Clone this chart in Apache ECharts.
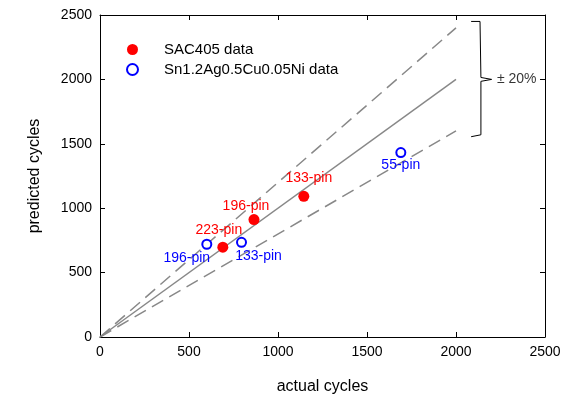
<!DOCTYPE html>
<html><head><meta charset="utf-8">
<script src="https://cdn.jsdelivr.net/npm/echarts@6/dist/echarts.min.js"></script>
<style>html,body{margin:0;padding:0;background:#fff}#c{width:574px;height:400px}</style>
</head><body><div id="c"></div>
<script>
const xTicks = [0, 500, 1000, 1500, 2000, 2500];
const yTicks = [0, 500, 1000, 1500, 2000, 2500];
const sacNames = ['223-pin', '196-pin', '133-pin'];
const sacActual = [690, 865, 1145];
const sacPred = [697, 912, 1092];
const snNames = ['196-pin', '133-pin', '55-pin'];
const snActual = [600, 795, 1690];
const snPred = [720, 735, 1432];
const refMax = 2000;
const bandPct = 0.2;
const bracketText = '\u00b1 20%';

const F = 'Liberation Sans, Arial, sans-serif';
const sacLabelOffsets = [[-4, 0], [-8, 4], [5, -1]];
const snLabelOffsets = [[-20, -4], [17, -4], [0, -5]];

const chart = echarts.init(document.getElementById('c'), null, {renderer: 'canvas'});
const axisCommon = {
  type: 'value', min: 0, max: 2500, interval: 500,
  axisLine: {show: true, onZero: false, lineStyle: {color: '#000', width: 1}},
  axisTick: {show: true, inside: true, length: 5, lineStyle: {color: '#000'}},
  splitLine: {show: false}
};
const sacData = sacActual.map((v, i) => ({
  value: [v, sacPred[i]],
  label: {show: true, formatter: sacNames[i], position: 'top', offset: sacLabelOffsets[i], color: '#ff0000', fontSize: 14, fontFamily: F}
}));
const snData = snActual.map((v, i) => ({
  value: [v, snPred[i]],
  label: {show: true, formatter: snNames[i], position: 'bottom', offset: snLabelOffsets[i], color: '#0000ff', fontSize: 14, fontFamily: F}
}));
const bx1 = 2085, bx2 = 2140, btip = 2200;
const upperEnd = refMax * (1 + bandPct), lowerEnd = refMax * (1 - bandPct);
const bTop = upperEnd + 50, bBot = lowerEnd - 45;
const bracket = [[bx1, bTop], [bx2 - 5, bTop], [bx2, bTop - 15], [bx2, refMax + 15], [btip, refMax], [bx2, refMax - 15], [bx2, bBot + 15], [bx2 - 5, bBot], [bx1, bBot]];
const tickFmt = v => String(v);

chart.setOption({
  animation: false,
  textStyle: {fontFamily: F},
  grid: {left: 100, right: 29, top: 15, bottom: 62, show: false},
  legend: {
    orient: 'vertical', left: 121, top: 37, itemWidth: 11, itemHeight: 11, itemGap: 5,
    data: ['SAC405 data', 'Sn1.2Ag0.5Cu0.05Ni data'],
    textStyle: {fontSize: 15, color: '#000', fontFamily: F, padding: [0, 0, 0, 21]}
  },
  xAxis: [
    Object.assign({}, axisCommon, {position: 'bottom', name: 'actual cycles', nameLocation: 'middle', nameGap: 42,
      nameTextStyle: {fontSize: 16, color: '#000', fontFamily: F},
      axisLabel: {fontSize: 14, color: '#000', margin: 8, fontFamily: F, formatter: tickFmt}}),
    Object.assign({}, axisCommon, {position: 'top', axisLabel: {show: false}})
  ],
  yAxis: [
    Object.assign({}, axisCommon, {position: 'left', name: 'predicted cycles', nameLocation: 'middle', nameGap: 57,
      nameTextStyle: {fontSize: 16, color: '#000', fontFamily: F},
      axisLabel: {fontSize: 14, color: '#000', margin: 8, fontFamily: F, formatter: tickFmt}}),
    Object.assign({}, axisCommon, {position: 'right', axisLabel: {show: false}})
  ],
  series: [
    {type: 'line', data: [[0, 0], [refMax, refMax]], symbol: 'none', silent: true,
      lineStyle: {color: '#888', width: 1.5}},
    {type: 'line', data: [[0, 0], [refMax, upperEnd]], symbol: 'none', silent: true,
      lineStyle: {color: '#888', width: 1.5, type: [13, 7]}},
    {type: 'line', data: [[0, 0], [refMax, lowerEnd]], symbol: 'none', silent: true,
      lineStyle: {color: '#888', width: 1.5, type: [13, 7]}},
    {type: 'line', data: bracket, symbol: 'none', silent: true,
      lineStyle: {color: '#000', width: 1}},
    {type: 'scatter', data: [[btip + 30, refMax]], symbolSize: 0, silent: true,
      label: {show: true, formatter: bracketText, position: 'right', distance: 0, color: '#000', fontSize: 14, fontFamily: F}},
    {name: 'SAC405 data', type: 'scatter', data: sacData, symbol: 'circle', symbolSize: 11,
      itemStyle: {color: '#ff0000', opacity: 1}, z: 5},
    {name: 'Sn1.2Ag0.5Cu0.05Ni data', type: 'scatter', data: snData, symbol: 'circle', symbolSize: 9,
      itemStyle: {color: '#fff', borderColor: '#0000ff', borderWidth: 2, opacity: 1}, z: 5}
  ]
});
</script></body></html>
